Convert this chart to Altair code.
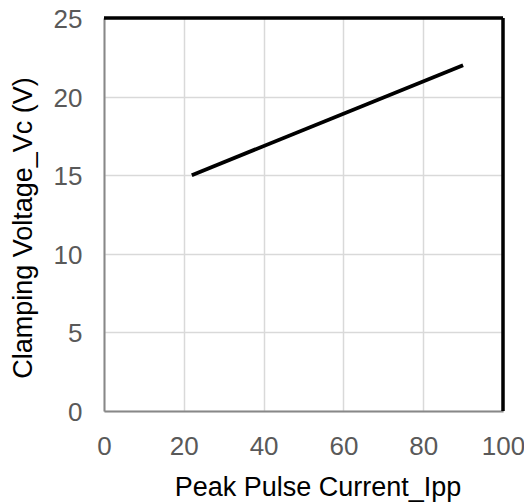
import altair as alt
import pandas as pd

ipp = [22, 90]
vc = [15, 22]

df = pd.DataFrame({"ipp": ipp, "vc": vc})

W, H = 399, 393
FONT = "Liberation Sans"

x_enc = alt.X("ipp:Q", scale=alt.Scale(domain=[0, 100], nice=False),
              axis=alt.Axis(values=[0, 20, 40, 60, 80, 100], title="Peak Pulse Current_Ipp",
                            titleX=W / 2 + 14))
y_enc = alt.Y("vc:Q", scale=alt.Scale(domain=[0, 25], nice=False),
              axis=alt.Axis(values=[0, 5, 10, 15, 20, 25], title="Clamping Voltage_Vc (V)",
                            titleY=H / 2 + 13, labelOffset=1.5))

line = alt.Chart(df).mark_line(color="black", strokeWidth=3.8).encode(x=x_enc, y=y_enc)

top = alt.Chart(df).mark_rule(color="black", strokeWidth=3).encode(
    x=alt.datum(0), x2=alt.datum(100), y=alt.datum(25))
right = alt.Chart(df).mark_rule(color="black", strokeWidth=3).encode(
    x=alt.datum(100), y=alt.datum(0), y2=alt.datum(25))

chart = alt.layer(line, top, right).properties(
    width=W, height=H,
    autosize=alt.AutoSizeParams(type="none"),
    padding={"left": 96, "top": 10, "right": 21, "bottom": 93},
).configure_view(stroke=None).configure_axis(
    grid=True, gridColor="#d9d9d9", gridWidth=1.5,
    domainColor="#888888", domainWidth=2,
    ticks=False, labelFlush=False, labelOverlap=False,
    labelFont=FONT, labelFontSize=26, labelColor="#595959",
    titleFont=FONT, titleFontSize=27, titleColor="black", titleFontWeight="normal",
).configure_axisX(labelPadding=22, titlePadding=15).configure_axisY(labelPadding=22, titlePadding=16)

chart.save("out.html", embed_options={"renderer": "svg", "actions": False})
